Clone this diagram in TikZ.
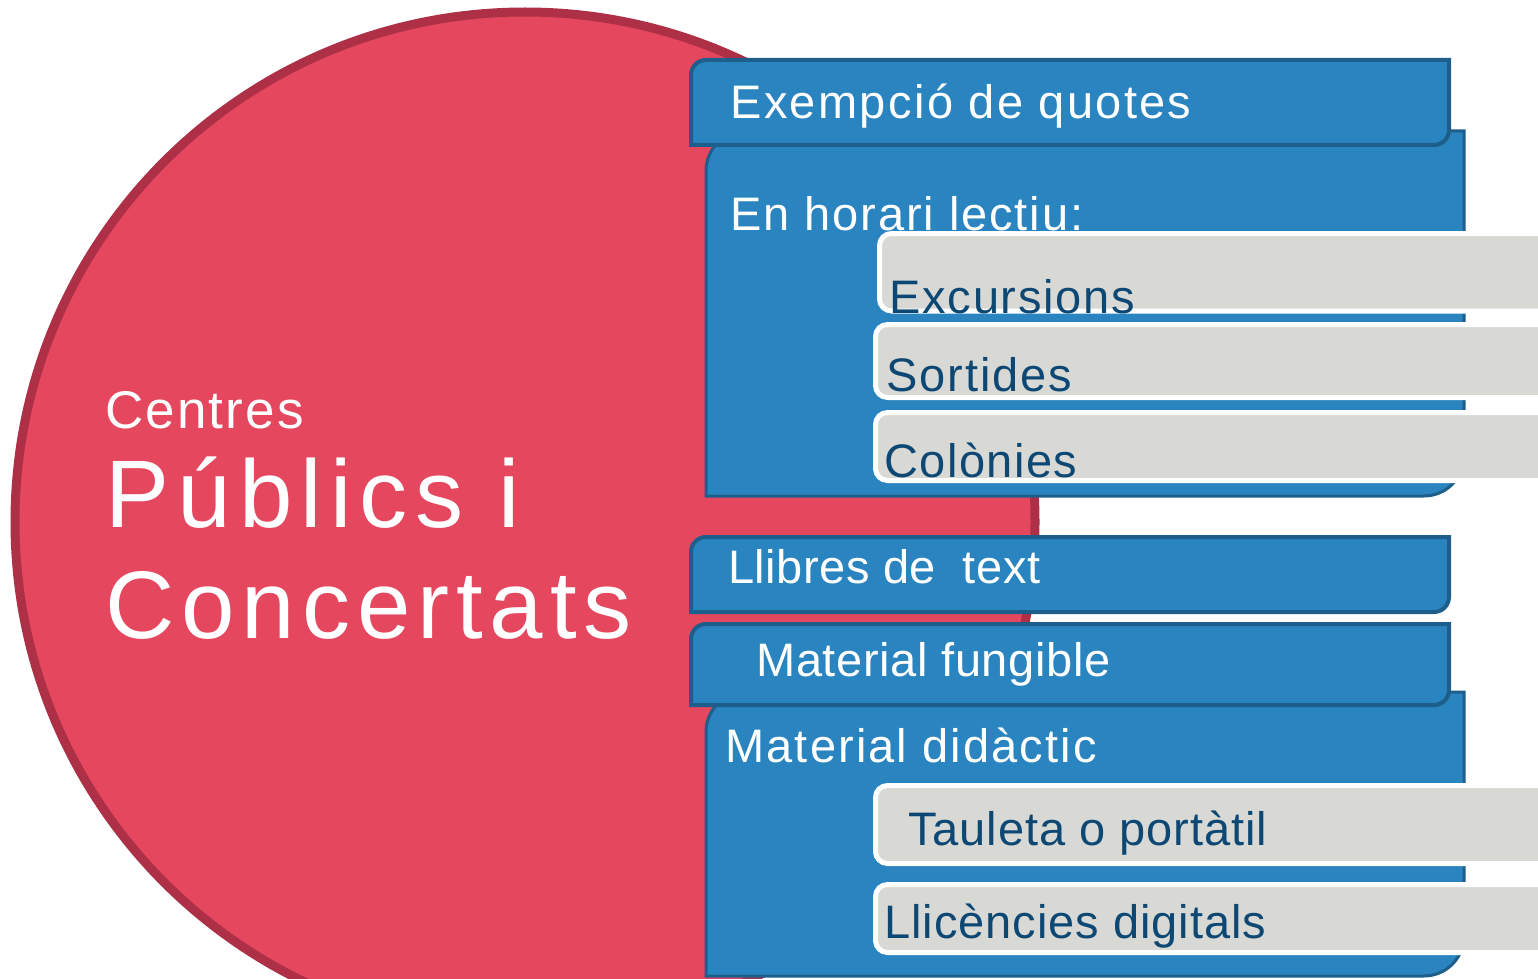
\documentclass[tikz,border=0pt]{standalone}
\usepackage{fontspec}
\setmainfont{Liberation Sans}
\usetikzlibrary{positioning}

\definecolor{circlered}{RGB}{229,71,95}
\definecolor{circleedge}{RGB}{173,48,71}
\definecolor{boxblue}{RGB}{41,132,192}
\definecolor{boxedge}{RGB}{30,94,138}
\definecolor{itemgrey}{RGB}{216,216,212}
\definecolor{itemtext}{RGB}{12,72,115}

% rectangle with rounded top-left and bottom-right corners: x1,y1,x2,y2,r
\newcommand{\diagbox}[5]{(#1,#4) -- (#1,#2+#5) arc[start angle=180,end angle=270,radius=#5] -- (#3,#2) -- (#3,#4-#5) arc[start angle=0,end angle=90,radius=#5] -- cycle}
% grey bar running off the right edge: x1,ytop,ybottom
\newcommand{\itembar}[3]{(1560,#3) -- (#1+12,#3) arc[start angle=90,end angle=180,radius=12] -- (#1,#2+12) arc[start angle=180,end angle=270,radius=12] -- (1560,#2) -- cycle}
% spaced text size
\newcommand{\spaced}[1]{\fontsize{23.5}{26}\selectfont\addfontfeature{LetterSpace=#1}}

\begin{document}
\begin{tikzpicture}[
        x=0.5pt, y=-0.5pt,
        bluebox/.style={fill=boxblue, draw=boxedge, line width=2pt},
        itembox/.style={fill=itemgrey, draw=white, line width=2.5pt},
        boxtext/.style={anchor=base west, inner sep=0pt, text=white},
        itemlabel/.style={anchor=base west, inner sep=0pt, text=itemtext}
    ]
        \useasboundingbox (0,0) rectangle (1538,979);
        \clip (0,0) rectangle (1538,979);

        % big circle
        \draw[fill=circlered, draw=circleedge, line width=4.5pt] (525,522) circle[radius=510];
        \node[anchor=base west, inner sep=0pt, text=white, font=\fontsize{26.5}{30}\selectfont\addfontfeature{LetterSpace=4}] (centres) at (105,428) {Centres};
        \node[anchor=base west, inner sep=0pt, text=white, font=\fontsize{48}{52}\selectfont\addfontfeature{LetterSpace=8.5}] (publics) at (105,527) {Públics i};
        \node[anchor=base west, inner sep=0pt, text=white, font=\fontsize{48}{52}\selectfont\addfontfeature{LetterSpace=7.2}] (concertats) at (105,638) {Concertats};

        % upper group
        \draw[bluebox, line width=1.5pt] \diagbox{706}{131}{1464}{496}{40};
        \draw[bluebox] \diagbox{691}{60}{1449}{145}{15};
        \node[boxtext, font=\spaced{5}] (quotes) at (730,119) {Exempció de quotes};
        \node[boxtext, font=\spaced{4}] (horari) at (730,230) {En horari lectiu:};

        \draw[itembox] \itembar{879.5}{233.5}{311};
        \node[itemlabel, font=\spaced{3.8}] (excursions) at (889,313) {Excursions};
        \draw[itembox] \itembar{875.5}{324.5}{397.5};
        \node[itemlabel, font=\spaced{4}] (sortides) at (886,391) {Sortides};
        \draw[itembox] \itembar{875.5}{412.5}{480.5};
        \node[itemlabel, font=\spaced{3}] (colonies) at (884,477) {Colònies};

        % lower group
        \draw[bluebox, line width=1.5pt] \diagbox{706}{692}{1464}{976}{40};
        \draw[bluebox] \diagbox{691}{624}{1449}{705}{15};
        \draw[bluebox] \diagbox{691}{537}{1449}{612}{15};
        \node[boxtext, font=\spaced{1}] (llibres) at (728,583) {Llibres de\ \ text};
        \node[boxtext, font=\spaced{1.3}] (fungible) at (756,676) {Material fungible};
        \node[boxtext, font=\spaced{4.5}] (didactic) at (725,762) {Material didàctic};

        \draw[itembox] \itembar{875.5}{785.5}{863.5};
        \node[itemlabel, font=\spaced{2}] (tauleta) at (908,845) {Tauleta o portàtil};
        \draw[itembox] \itembar{875.5}{884.5}{952.5};
        \node[itemlabel, font=\spaced{2}] (llicencies) at (884,938) {Llicències digitals};
    \end{tikzpicture}
\end{document}
